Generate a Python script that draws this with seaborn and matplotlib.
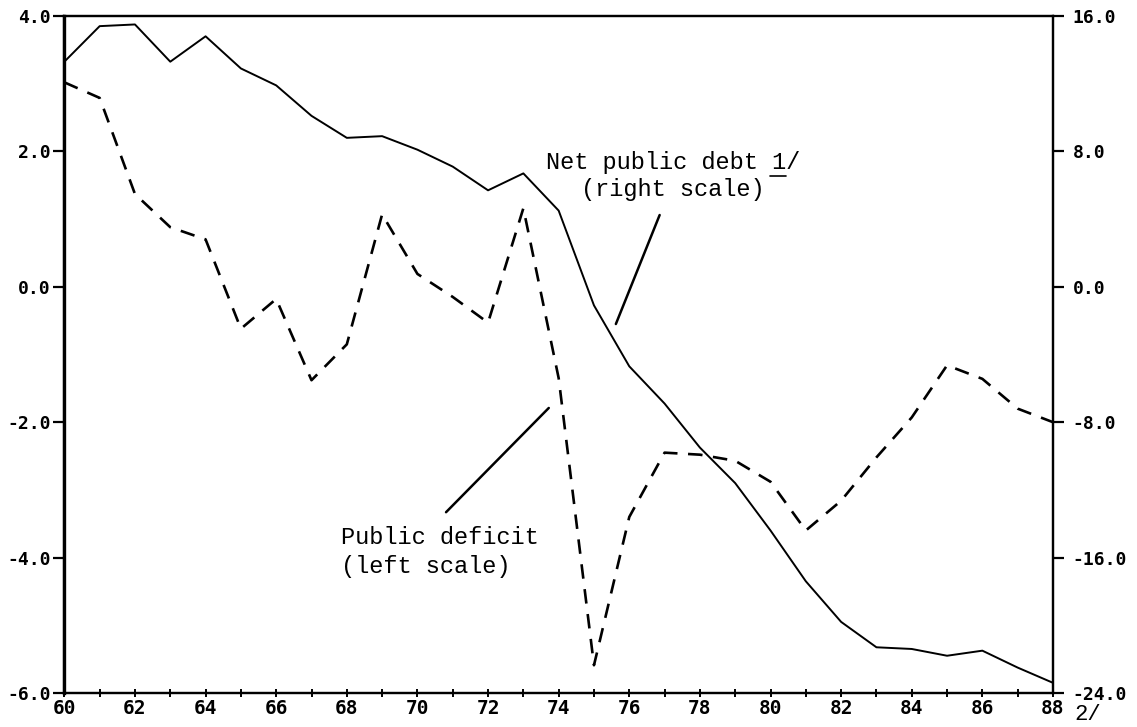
import pandas as pd
import matplotlib
matplotlib.use("Agg")
import matplotlib.pyplot as plt
import seaborn as sns

# values
years = [60, 61, 62, 63, 64, 65, 66, 67, 68, 69, 70, 71, 72, 73, 74,
         75, 76, 77, 78, 79, 80, 81, 82, 83, 84, 85, 86, 87, 88]
net_public_debt = [13.3, 15.4, 15.5, 13.3, 14.8, 12.9, 11.9, 10.1, 8.8, 8.9,
                   8.1, 7.1, 5.7, 6.7, 4.5, -1.1, -4.7, -6.9, -9.5, -11.6,
                   -14.4, -17.4, -19.8, -21.3, -21.4, -21.8, -21.5, -22.5, -23.4]
public_deficit = [3.02, 2.79, 1.37, 0.88, 0.70, -0.62, -0.18, -1.38, -0.85, 1.07,
                  0.19, -0.15, -0.53, 1.16, -1.35, -5.59, -3.4, -2.45, -2.48, -2.57,
                  -2.88, -3.6, -3.16, -2.52, -1.93, -1.16, -1.36, -1.8, -2.0]
left_ticks = [-6, -4, -2, 0, 2, 4]
right_ticks = [-24, -16, -8, 0, 8, 16]

df = pd.DataFrame({"year": years, "debt": net_public_debt, "deficit": public_deficit})

sns.set_style("ticks")
plt.rcParams["font.family"] = ["DejaVu Sans Mono", "DejaVu Sans"]
plt.rcParams["text.color"] = "black"
plt.rcParams["xtick.color"] = "black"
plt.rcParams["ytick.color"] = "black"

fig = plt.figure(figsize=(11.37, 7.27), dpi=100)
ax = fig.add_axes([0.0566, 0.0468, 0.8695, 0.9312])
ax2 = ax.twinx()

# public deficit, left scale, dashed
sns.lineplot(data=df, x="year", y="deficit", ax=ax, color="black",
             linewidth=1.9)
ax.lines[0].set_dashes((5.5, 4))

# net public debt, right scale, solid
sns.lineplot(data=df, x="year", y="debt", ax=ax2, color="black", linewidth=1.4)

ax.set_xlim(60, 88)
ax.set_ylim(-6, 4)
ax2.set_ylim(-24, 16)

ax.set_yticks(left_ticks)
ax.set_yticklabels([f"{v:.1f}" for v in left_ticks])
ax2.set_yticks(right_ticks)
ax2.set_yticklabels([f"{v:.1f}" for v in right_ticks])
ax.set_xticks(years[::2])
ax.set_xticklabels([str(y) for y in years[::2]])
ax.set_xticks(years[1::2], minor=True)

for a in (ax, ax2):
    a.set_xlabel("")
    a.set_ylabel("")
    for s in a.spines.values():
        s.set_linewidth(1.6)
        s.set_color("black")
ax.spines["left"].set_linewidth(2.4)

ax.tick_params(axis="y", direction="out", length=8, width=1.6, pad=2, colors="black")
ax2.tick_params(axis="y", direction="out", length=8, width=1.6, pad=6, colors="black")
ax.tick_params(axis="x", which="both", direction="inout", length=6, width=1.4,
               pad=1, colors="black")
for lab in ax.get_yticklabels() + ax2.get_yticklabels():
    lab.set_fontsize(13)
    lab.set_fontweight("bold")
for lab in ax.get_xticklabels():
    lab.set_fontsize(14)
    lab.set_fontweight("bold")

# annotations
mono = ["Liberation Mono", "DejaVu Sans Mono"]
ax.text(77.23, 1.83, "Net public debt 1/", ha="center", va="center",
        fontsize=17, family=mono, color="black")
ax.plot([79.99, 80.45], [1.64, 1.64], color="black", linewidth=1.2)
ax.text(77.23, 1.43, "(right scale)", ha="center", va="center",
        fontsize=17, family=mono, color="black")
ax.plot([76.86, 75.62], [1.06, -0.55], color="black", linewidth=1.8)

ax.text(67.84, -3.70, "Public deficit", ha="left", va="center",
        fontsize=17, family=mono, color="black")
ax.text(67.84, -4.13, "(left scale)", ha="left", va="center",
        fontsize=17, family=mono, color="black")
ax.plot([70.81, 73.72], [-3.33, -1.79], color="black", linewidth=1.8)

ax.text(1.022, -0.032, "2/", transform=ax.transAxes, ha="left", va="center",
        fontsize=16, family=mono, color="black")

fig.savefig("out.png", dpi=100)
